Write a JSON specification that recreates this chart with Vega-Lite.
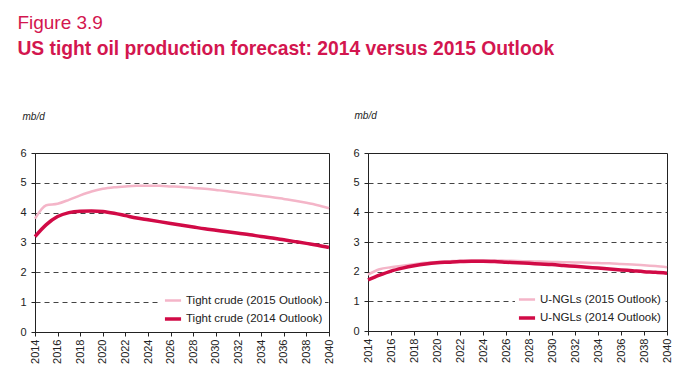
{
  "$schema": "https://vega.github.io/schema/vega-lite/v6.json",
  "background": "white",
  "padding": {"left": 17, "top": 14, "right": 5, "bottom": 5},
  "title": {
    "text": "Figure 3.9",
    "subtitle": "US tight oil production forecast: 2014 versus 2015 Outlook",
    "anchor": "start",
    "frame": "bounds",
    "dx": -2,
    "font": "Liberation Sans",
    "fontSize": 19,
    "fontWeight": "normal",
    "color": "#d3164f",
    "subtitleFont": "Liberation Sans",
    "subtitleFontSize": 19.3,
    "subtitleFontWeight": "bold",
    "subtitleColor": "#d3164f",
    "subtitlePadding": 7,
    "offset": 50
  },
  "datasets": {
    "crude": [
      {"year": 2014, "series": "Tight crude (2015 Outlook)", "value": 3.8},
      {"year": 2015, "series": "Tight crude (2015 Outlook)", "value": 4.25},
      {"year": 2016, "series": "Tight crude (2015 Outlook)", "value": 4.3},
      {"year": 2017, "series": "Tight crude (2015 Outlook)", "value": 4.43},
      {"year": 2018, "series": "Tight crude (2015 Outlook)", "value": 4.58},
      {"year": 2019, "series": "Tight crude (2015 Outlook)", "value": 4.71},
      {"year": 2020, "series": "Tight crude (2015 Outlook)", "value": 4.8},
      {"year": 2021, "series": "Tight crude (2015 Outlook)", "value": 4.85},
      {"year": 2022, "series": "Tight crude (2015 Outlook)", "value": 4.88},
      {"year": 2023, "series": "Tight crude (2015 Outlook)", "value": 4.9},
      {"year": 2024, "series": "Tight crude (2015 Outlook)", "value": 4.9},
      {"year": 2025, "series": "Tight crude (2015 Outlook)", "value": 4.9},
      {"year": 2026, "series": "Tight crude (2015 Outlook)", "value": 4.88},
      {"year": 2027, "series": "Tight crude (2015 Outlook)", "value": 4.86},
      {"year": 2028, "series": "Tight crude (2015 Outlook)", "value": 4.83},
      {"year": 2029, "series": "Tight crude (2015 Outlook)", "value": 4.8},
      {"year": 2030, "series": "Tight crude (2015 Outlook)", "value": 4.76},
      {"year": 2031, "series": "Tight crude (2015 Outlook)", "value": 4.72},
      {"year": 2032, "series": "Tight crude (2015 Outlook)", "value": 4.67},
      {"year": 2033, "series": "Tight crude (2015 Outlook)", "value": 4.62},
      {"year": 2034, "series": "Tight crude (2015 Outlook)", "value": 4.57},
      {"year": 2035, "series": "Tight crude (2015 Outlook)", "value": 4.52},
      {"year": 2036, "series": "Tight crude (2015 Outlook)", "value": 4.46},
      {"year": 2037, "series": "Tight crude (2015 Outlook)", "value": 4.4},
      {"year": 2038, "series": "Tight crude (2015 Outlook)", "value": 4.33},
      {"year": 2039, "series": "Tight crude (2015 Outlook)", "value": 4.25},
      {"year": 2040, "series": "Tight crude (2015 Outlook)", "value": 4.15},
      {"year": 2014, "series": "Tight crude (2014 Outlook)", "value": 3.2},
      {"year": 2015, "series": "Tight crude (2014 Outlook)", "value": 3.6},
      {"year": 2016, "series": "Tight crude (2014 Outlook)", "value": 3.87},
      {"year": 2017, "series": "Tight crude (2014 Outlook)", "value": 4.0},
      {"year": 2018, "series": "Tight crude (2014 Outlook)", "value": 4.05},
      {"year": 2019, "series": "Tight crude (2014 Outlook)", "value": 4.06},
      {"year": 2020, "series": "Tight crude (2014 Outlook)", "value": 4.04},
      {"year": 2021, "series": "Tight crude (2014 Outlook)", "value": 3.98},
      {"year": 2022, "series": "Tight crude (2014 Outlook)", "value": 3.9},
      {"year": 2023, "series": "Tight crude (2014 Outlook)", "value": 3.82},
      {"year": 2024, "series": "Tight crude (2014 Outlook)", "value": 3.76},
      {"year": 2025, "series": "Tight crude (2014 Outlook)", "value": 3.7},
      {"year": 2026, "series": "Tight crude (2014 Outlook)", "value": 3.64},
      {"year": 2027, "series": "Tight crude (2014 Outlook)", "value": 3.58},
      {"year": 2028, "series": "Tight crude (2014 Outlook)", "value": 3.52},
      {"year": 2029, "series": "Tight crude (2014 Outlook)", "value": 3.46},
      {"year": 2030, "series": "Tight crude (2014 Outlook)", "value": 3.41},
      {"year": 2031, "series": "Tight crude (2014 Outlook)", "value": 3.36},
      {"year": 2032, "series": "Tight crude (2014 Outlook)", "value": 3.31},
      {"year": 2033, "series": "Tight crude (2014 Outlook)", "value": 3.26},
      {"year": 2034, "series": "Tight crude (2014 Outlook)", "value": 3.2},
      {"year": 2035, "series": "Tight crude (2014 Outlook)", "value": 3.15},
      {"year": 2036, "series": "Tight crude (2014 Outlook)", "value": 3.09},
      {"year": 2037, "series": "Tight crude (2014 Outlook)", "value": 3.03},
      {"year": 2038, "series": "Tight crude (2014 Outlook)", "value": 2.97},
      {"year": 2039, "series": "Tight crude (2014 Outlook)", "value": 2.91},
      {"year": 2040, "series": "Tight crude (2014 Outlook)", "value": 2.83}
    ],
    "ngl": [
      {"year": 2014, "series": "U-NGLs (2015 Outlook)", "value": 1.9},
      {"year": 2015, "series": "U-NGLs (2015 Outlook)", "value": 2.08},
      {"year": 2016, "series": "U-NGLs (2015 Outlook)", "value": 2.15},
      {"year": 2017, "series": "U-NGLs (2015 Outlook)", "value": 2.2},
      {"year": 2018, "series": "U-NGLs (2015 Outlook)", "value": 2.25},
      {"year": 2019, "series": "U-NGLs (2015 Outlook)", "value": 2.3},
      {"year": 2020, "series": "U-NGLs (2015 Outlook)", "value": 2.33},
      {"year": 2021, "series": "U-NGLs (2015 Outlook)", "value": 2.35},
      {"year": 2022, "series": "U-NGLs (2015 Outlook)", "value": 2.37},
      {"year": 2023, "series": "U-NGLs (2015 Outlook)", "value": 2.38},
      {"year": 2024, "series": "U-NGLs (2015 Outlook)", "value": 2.38},
      {"year": 2025, "series": "U-NGLs (2015 Outlook)", "value": 2.38},
      {"year": 2026, "series": "U-NGLs (2015 Outlook)", "value": 2.37},
      {"year": 2027, "series": "U-NGLs (2015 Outlook)", "value": 2.36},
      {"year": 2028, "series": "U-NGLs (2015 Outlook)", "value": 2.35},
      {"year": 2029, "series": "U-NGLs (2015 Outlook)", "value": 2.34},
      {"year": 2030, "series": "U-NGLs (2015 Outlook)", "value": 2.33},
      {"year": 2031, "series": "U-NGLs (2015 Outlook)", "value": 2.32},
      {"year": 2032, "series": "U-NGLs (2015 Outlook)", "value": 2.31},
      {"year": 2033, "series": "U-NGLs (2015 Outlook)", "value": 2.3},
      {"year": 2034, "series": "U-NGLs (2015 Outlook)", "value": 2.29},
      {"year": 2035, "series": "U-NGLs (2015 Outlook)", "value": 2.28},
      {"year": 2036, "series": "U-NGLs (2015 Outlook)", "value": 2.26},
      {"year": 2037, "series": "U-NGLs (2015 Outlook)", "value": 2.24},
      {"year": 2038, "series": "U-NGLs (2015 Outlook)", "value": 2.22},
      {"year": 2039, "series": "U-NGLs (2015 Outlook)", "value": 2.19},
      {"year": 2040, "series": "U-NGLs (2015 Outlook)", "value": 2.15},
      {"year": 2014, "series": "U-NGLs (2014 Outlook)", "value": 1.72},
      {"year": 2015, "series": "U-NGLs (2014 Outlook)", "value": 1.88},
      {"year": 2016, "series": "U-NGLs (2014 Outlook)", "value": 2.02},
      {"year": 2017, "series": "U-NGLs (2014 Outlook)", "value": 2.12},
      {"year": 2018, "series": "U-NGLs (2014 Outlook)", "value": 2.2},
      {"year": 2019, "series": "U-NGLs (2014 Outlook)", "value": 2.26},
      {"year": 2020, "series": "U-NGLs (2014 Outlook)", "value": 2.3},
      {"year": 2021, "series": "U-NGLs (2014 Outlook)", "value": 2.32},
      {"year": 2022, "series": "U-NGLs (2014 Outlook)", "value": 2.34},
      {"year": 2023, "series": "U-NGLs (2014 Outlook)", "value": 2.35},
      {"year": 2024, "series": "U-NGLs (2014 Outlook)", "value": 2.35},
      {"year": 2025, "series": "U-NGLs (2014 Outlook)", "value": 2.34},
      {"year": 2026, "series": "U-NGLs (2014 Outlook)", "value": 2.32},
      {"year": 2027, "series": "U-NGLs (2014 Outlook)", "value": 2.3},
      {"year": 2028, "series": "U-NGLs (2014 Outlook)", "value": 2.28},
      {"year": 2029, "series": "U-NGLs (2014 Outlook)", "value": 2.26},
      {"year": 2030, "series": "U-NGLs (2014 Outlook)", "value": 2.24},
      {"year": 2031, "series": "U-NGLs (2014 Outlook)", "value": 2.21},
      {"year": 2032, "series": "U-NGLs (2014 Outlook)", "value": 2.18},
      {"year": 2033, "series": "U-NGLs (2014 Outlook)", "value": 2.15},
      {"year": 2034, "series": "U-NGLs (2014 Outlook)", "value": 2.12},
      {"year": 2035, "series": "U-NGLs (2014 Outlook)", "value": 2.09},
      {"year": 2036, "series": "U-NGLs (2014 Outlook)", "value": 2.06},
      {"year": 2037, "series": "U-NGLs (2014 Outlook)", "value": 2.03},
      {"year": 2038, "series": "U-NGLs (2014 Outlook)", "value": 2.0},
      {"year": 2039, "series": "U-NGLs (2014 Outlook)", "value": 1.98},
      {"year": 2040, "series": "U-NGLs (2014 Outlook)", "value": 1.95}
    ]
  },
  "spacing": 15,
  "resolve": {"scale": {"color": "independent", "strokeWidth": "independent"}, "legend": {"color": "independent", "strokeWidth": "independent"}},
  "hconcat": [
    {
      "width": 294,
      "height": 179,
      "data": {"name": "crude"},
      "mark": {"type": "line", "strokeCap": "butt", "interpolate": "monotone"},
      "encoding": {
        "x": {"field": "year", "type": "quantitative", "scale": {"domain": [2014, 2040], "nice": false, "zero": false},
              "axis": {"values": [2014,2016,2018,2020,2022,2024,2026,2028,2030,2032,2034,2036,2038,2040], "format": "d", "title": null, "grid": false}},
        "y": {"field": "value", "type": "quantitative", "scale": {"domain": [0, 6], "nice": false},
              "axis": {"values": [0,1,2,3,4,5,6], "title": "mb/d", "titleX": -13, "titleY": -34}},
        "color": {"field": "series", "type": "nominal",
                  "scale": {"domain": ["Tight crude (2015 Outlook)", "Tight crude (2014 Outlook)"], "range": ["#f4b5c8", "#d10a46"]},
                  "legend": {"title": null}},
        "strokeWidth": {"field": "series", "type": "nominal",
                  "scale": {"domain": ["Tight crude (2015 Outlook)", "Tight crude (2014 Outlook)"], "range": [2.5, 3.5]},
                  "legend": {"title": null}}
      }
    },
    {
      "width": 299,
      "height": 178,
      "data": {"name": "ngl"},
      "mark": {"type": "line", "strokeCap": "butt", "interpolate": "monotone"},
      "encoding": {
        "x": {"field": "year", "type": "quantitative", "scale": {"domain": [2014, 2040], "nice": false, "zero": false},
              "axis": {"values": [2014,2016,2018,2020,2022,2024,2026,2028,2030,2032,2034,2036,2038,2040], "format": "d", "title": null, "grid": false}},
        "y": {"field": "value", "type": "quantitative", "scale": {"domain": [0, 6], "nice": false},
              "axis": {"values": [0,1,2,3,4,5,6], "title": "mb/d", "titleX": -14, "titleY": -35}},
        "color": {"field": "series", "type": "nominal",
                  "scale": {"domain": ["U-NGLs (2015 Outlook)", "U-NGLs (2014 Outlook)"], "range": ["#f4b5c8", "#d10a46"]},
                  "legend": {"title": null}},
        "strokeWidth": {"field": "series", "type": "nominal",
                  "scale": {"domain": ["U-NGLs (2015 Outlook)", "U-NGLs (2014 Outlook)"], "range": [2.5, 3.5]},
                  "legend": {"title": null}}
      }
    }
  ],
  "config": {
    "font": "Liberation Sans",
    "view": {"stroke": "#222", "strokeWidth": 1},
    "axis": {
      "domainColor": "#222",
      "tickColor": "#222",
      "tickSize": 4,
      "labelColor": "#222",
      "labelFontSize": 11,
      "labelFont": "Liberation Sans",
      "titleFont": "Liberation Sans"
    },
    "axisX": {"labelAngle": -90, "labelAlign": "right", "labelBaseline": "middle", "labelPadding": 3, "labelFlush": false, "labelOverlap": false},
    "axisY": {
      "grid": true,
      "gridColor": "#444",
      "gridDash": [5, 4],
      "gridWidth": 1,
      "gridOpacity": {"condition": {"test": "datum.value == 0 || datum.value == 6", "value": 0}, "value": 1},
      "labelPadding": 5,
      "titleAngle": 0,
      "titleAlign": "left",
      "titleBaseline": "alphabetic",
      "titleFontStyle": "italic",
      "titleFontWeight": "normal",
      "titleFontSize": 10,
      "titleColor": "#222"
    },
    "legend": {
      "orient": "bottom-right",
      "offset": 4,
      "fillColor": "white",
      "padding": 2,
      "symbolType": "stroke",
      "symbolSize": 260,
      "symbolStrokeWidth": 4,
      "labelFontSize": 11.5,
      "labelColor": "#222",
      "labelFont": "Liberation Sans",
      "rowPadding": 3,
      "labelOffset": 3
    }
  }
}
